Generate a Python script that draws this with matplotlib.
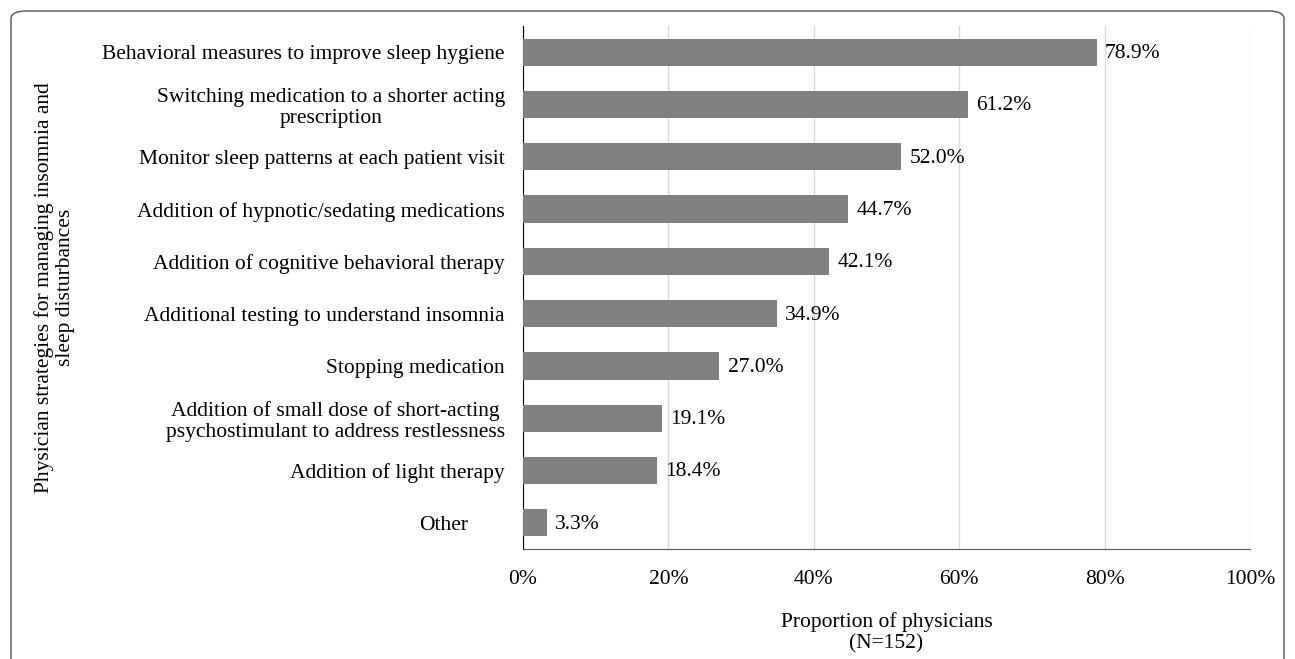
import matplotlib
matplotlib.use("Agg")
import matplotlib.pyplot as plt
from matplotlib.patches import FancyBboxPatch
from matplotlib.transforms import ScaledTranslation
from matplotlib.ticker import FuncFormatter

categories = [
    "Behavioral measures to improve sleep hygiene",
    "Switching medication to a shorter acting\nprescription",
    "Monitor sleep patterns at each patient visit",
    "Addition of hypnotic/sedating medications",
    "Addition of cognitive behavioral therapy",
    "Additional testing to understand insomnia",
    "Stopping medication",
    "Addition of small dose of short-acting\npsychostimulant to address restlessness",
    "Addition of light therapy",
    "Other",
]
values = [78.9, 61.2, 52.0, 44.7, 42.1, 34.9, 27.0, 19.1, 18.4, 3.3]
xticks = [0, 20, 40, 60, 80, 100]

plt.rcParams['font.family'] = ['Liberation Serif', 'DejaVu Serif']
FS = 15.5

fig = plt.figure(figsize=(12.95, 6.59), dpi=100)
ax = fig.add_axes([523/1295, 1-549/659, (1250-523)/1295, (549-26)/659])

# rounded frame
frame = FancyBboxPatch((11/1295, -0.05), (1284-11)/1295, 1-11/659+0.05,
                       boxstyle="round,pad=0,rounding_size=0.012",
                       transform=fig.transFigure, fill=False,
                       edgecolor="#555555", linewidth=1.0, zorder=0)
fig.patches.append(frame)

y = list(range(len(categories)))
ax.barh(y, values, height=0.52, color="#808080", zorder=3)
ax.set_ylim(len(categories) - 0.5, -0.5)
ax.set_xlim(0, 100)

for yi, v in zip(y, values):
    ax.annotate(f"{v:.1f}%", (v, yi), xytext=(6, -1), textcoords="offset points",
                va="center", ha="left", fontsize=FS)

ax.set_xticks(xticks)
ax.xaxis.set_major_formatter(FuncFormatter(lambda v, p: f"{v:.0f}%"))
ax.tick_params(axis="x", length=0, pad=15, labelsize=FS)
ax.set_yticks(y)
ax.set_yticklabels(categories, fontsize=FS, multialignment="center", linespacing=1.15)
ax.tick_params(axis="y", length=0, pad=13)

for lab in ax.get_yticklabels():
    if lab.get_text() == "Other":
        lab.set_transform(lab.get_transform() + ScaledTranslation(-37/100, 0, fig.dpi_scale_trans))

ax.grid(axis="x", color="#d9d9d9", linewidth=1.0, zorder=0)
for s in ["top", "right"]:
    ax.spines[s].set_visible(False)
ax.spines["left"].set_color("black")
ax.spines["bottom"].set_color("#595959")

ax.set_xlabel("Proportion of physicians\n(N=152)", fontsize=FS, labelpad=17,
              linespacing=1.1)
ax.set_ylabel("Physician strategies for managing insomnia and\nsleep disturbances",
              fontsize=FS, linespacing=1.15)
ax.yaxis.set_label_coords((75-523)/727, 0.5)

fig.savefig("out.png", dpi=100)
